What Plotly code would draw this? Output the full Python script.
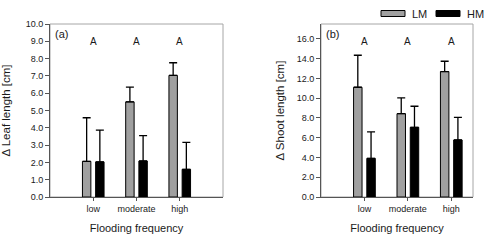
import plotly.graph_objects as go

categories = ["low", "moderate", "high"]
cat_pos = [0, 1, 2]

leaf_lm = [2.06, 5.50, 7.03]
leaf_lm_err = [2.52, 0.85, 0.73]
leaf_hm = [2.03, 2.08, 1.60]
leaf_hm_err = [1.83, 1.47, 1.56]

shoot_lm = [11.10, 8.43, 12.69]
shoot_lm_err = [3.24, 1.60, 1.04]
shoot_hm = [3.91, 7.05, 5.77]
shoot_hm_err = [2.67, 2.13, 2.29]

letters_a = ["A", "A", "A"]
letters_b = ["A", "A", "A"]
series_names = ["LM", "HM"]

LM_COLOR = "#a0a0a0"
HM_COLOR = "#000000"
FONT = "Liberation Sans, Arial, sans-serif"
TXT = "#1a1a1a"

W, H = 500, 243
ML, MR, MT, MB = 50, 27, 24, 46
PW = W - ML - MR

fig = go.Figure()

def add_bars(x_ref, y_ref, lm, lm_err, hm, hm_err):
    fig.add_trace(go.Bar(
        x=cat_pos, y=lm, name=series_names[0], xaxis=x_ref, yaxis=y_ref,
        offset=-0.25, width=0.195,
        marker=dict(color=LM_COLOR, line=dict(color="#000000", width=1)),
        error_y=dict(type="data", symmetric=False, array=lm_err,
                     arrayminus=[0] * len(lm), color="#000000",
                     thickness=1.3, width=4),
        showlegend=False))
    fig.add_trace(go.Bar(
        x=cat_pos, y=hm, name=series_names[1], xaxis=x_ref, yaxis=y_ref,
        offset=0.055, width=0.195,
        marker=dict(color=HM_COLOR, line=dict(color="#000000", width=1)),
        error_y=dict(type="data", symmetric=False, array=hm_err,
                     arrayminus=[0] * len(hm), color="#000000",
                     thickness=1.3, width=4),
        showlegend=False))

add_bars("x", "y", leaf_lm, leaf_lm_err, leaf_hm, leaf_hm_err)
add_bars("x2", "y2", shoot_lm, shoot_lm_err, shoot_hm, shoot_hm_err)

xcommon = dict(
    tickmode="array", tickvals=cat_pos, ticktext=categories,
    ticks="outside", ticklen=3, tickcolor="#555555", tickwidth=1,
    showline=True, linecolor="#555555", linewidth=1, mirror=False,
    showgrid=False, zeroline=False, automargin=False,
    tickfont=dict(family=FONT, size=9, color=TXT),
    title=dict(text="Flooding frequency", font=dict(family=FONT, size=11, color=TXT),
               standoff=11),
)
ycommon = dict(
    ticks="outside", ticklen=4, tickcolor="#555555", tickwidth=1,
    showline=True, linecolor="#555555", linewidth=1, mirror=False,
    showgrid=False, zeroline=False, tickformat=".1f", automargin=False,
    tickfont=dict(family=FONT, size=9, color=TXT),
)

fig.update_layout(
    width=W, height=H,
    margin=dict(l=ML, r=MR, t=MT, b=MB, autoexpand=False),
    paper_bgcolor="white", plot_bgcolor="white",
    barmode="group", showlegend=False,
    font=dict(family=FONT, color=TXT),
    xaxis=dict(domain=[0, 173 / PW], range=[-1, 3], anchor="y", **xcommon),
    xaxis2=dict(domain=[(321 - ML) / PW, 1], range=[-1, 2.5], anchor="y2", **xcommon),
    yaxis=dict(domain=[0, 1], range=[0, 10.0], dtick=1, anchor="x",
               title=dict(text="Δ Leaf length [cm]", font=dict(family=FONT, size=11.5, color=TXT),
                          standoff=12),
               **ycommon),
    yaxis2=dict(domain=[0, 1], range=[0, 17.5], dtick=2, anchor="x2",
                title=dict(text="Δ Shoot length [cm]", font=dict(family=FONT, size=11.5, color=TXT),
                           standoff=9),
                **ycommon),
)

# light frame (top/right) around both panels
for xr, yr in (("x domain", "y domain"), ("x2 domain", "y2 domain")):
    fig.add_shape(type="rect", xref=xr, yref=yr, x0=0, x1=1, y0=0, y1=1,
                  line=dict(color="#a6a6a6", width=1), layer="below")

# custom legend (wide flat swatches) above the right panel
PH = H - MT - MB
def px_x(px):
    return (px - ML) / PW
def px_y(py):
    return (H - MB - py) / PH

legend_items = [(series_names[0], LM_COLOR, 381), (series_names[1], HM_COLOR, 436)]
for name, col, x0 in legend_items:
    fig.add_shape(type="rect", xref="paper", yref="paper",
                  x0=px_x(x0), x1=px_x(x0 + 24), y0=px_y(16.5), y1=px_y(10.5),
                  fillcolor=col, line=dict(color="#000000", width=1))
    fig.add_annotation(text=name, xref="paper", yref="paper",
                       x=px_x(x0 + 29), y=px_y(13.5), xanchor="left", yanchor="middle",
                       showarrow=False, font=dict(family=FONT, size=11, color=TXT))

# panel labels and significance letters
fig.add_annotation(text="(a)", xref="x domain", yref="y domain", x=0.02, y=0.945,
                   xanchor="left", yanchor="middle", showarrow=False,
                   font=dict(family=FONT, size=11, color=TXT))
fig.add_annotation(text="(b)", xref="x2 domain", yref="y2 domain", x=0.02, y=0.945,
                   xanchor="left", yanchor="middle", showarrow=False,
                   font=dict(family=FONT, size=11, color=TXT))
for xp, t in zip(cat_pos, letters_a):
    fig.add_annotation(text=t, x=xp, xref="x", yref="y domain", y=0.944,
                       showarrow=False, font=dict(family=FONT, size=10, color=TXT))
for xp, t in zip(cat_pos, letters_b):
    fig.add_annotation(text=t, x=xp, xref="x2", yref="y2 domain", y=0.944,
                       showarrow=False, font=dict(family=FONT, size=10, color=TXT))

fig.write_html("out.html", config={"displayModeBar": False},
               post_script="document.body.style.margin='0';")
